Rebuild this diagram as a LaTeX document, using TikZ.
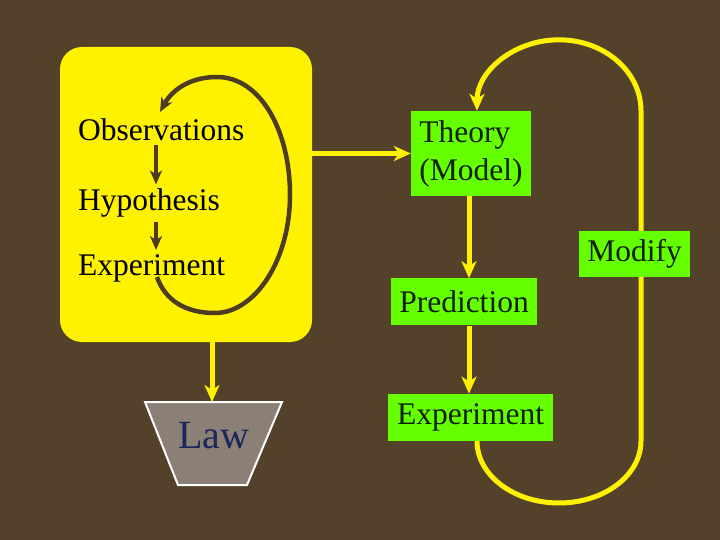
\documentclass[tikz,border=0pt]{standalone}
\usepackage{fontspec}
\setmainfont{Liberation Serif}
\usetikzlibrary{arrows.meta,positioning}
\definecolor{bgbrown}{RGB}{84,65,42}
\definecolor{loopbrown}{RGB}{78,59,36}
\definecolor{lime}{RGB}{102,255,0}
\definecolor{lawgray}{RGB}{140,128,118}
\definecolor{lawblue}{RGB}{26,38,92}
\definecolor{boxtext}{RGB}{8,32,8}

\begin{document}
\begin{tikzpicture}[x=1pt, y=-1pt,
  lab/.style={rectangle, rounded corners=22pt, fill=yellow, minimum width=252pt, minimum height=295pt},
  word/.style={anchor=west, inner sep=4pt, font=\fontsize{31.5}{37}\selectfont},
  gbox/.style={rectangle, fill=lime, text=boxtext, inner sep=5pt, font=\fontsize{31.5}{38}\selectfont},
  barr/.style={-{Stealth[length=14pt, width=12pt, inset=4pt]}, line width=4.5pt, draw=loopbrown},
  yline/.style={line width=5pt, draw=yellow},
  yarr/.style={yline, -{Stealth[length=17pt, width=15pt, inset=5pt]}}
]
\fill[bgbrown] (0,0) rectangle (720,540);
\useasboundingbox (0,0) rectangle (720,540);

% the lab box
\node[lab] (lab) at (186,194.5) {};
\node[word] (obs) at (74,130) {Observations};
\node[word] (hyp) at (74,203) {Hypothesis};
\node[word] (expl) at (74,268) {Experiment};
\coordinate (col) at (156,0);
\draw[barr] (obs.south -| col) -- (hyp.north -| col);
\draw[barr] (hyp.south -| col) -- (expl.north -| col);
\draw[barr] (157,277) .. controls (165,300) and (185,313) .. (215,313)
  .. controls (255,313) and (290,260) .. (290,195)
  .. controls (290,130) and (260,77) .. (217,77)
  .. controls (190,77) and (172,90) .. (160,112);

% law
\draw[draw=white, line width=2pt, fill=lawgray] (145,402) -- (282,402) -- (247,485) -- (178,485) -- cycle;
\node[text=lawblue, font=\fontsize{40}{48}\selectfont] (law) at (214,436) {Law};
\coordinate (lawtop) at (212,402);
\draw[yarr] (lab.south -| lawtop) -- (lawtop);

% theory cycle
\node[gbox, align=left, minimum width=120pt, minimum height=85pt] (theory) at (471,153.5) {Theory\\(Model)};
\node[gbox, minimum width=146pt, minimum height=47pt, below=82pt of theory, xshift=-7pt] (pred) {Prediction};
\node[gbox, minimum width=165pt, minimum height=47pt, below=68pt of pred, xshift=6.5pt] (expt) {Experiment};
\node[gbox, minimum width=111pt, minimum height=46pt] (modify) at (634.5,254) {Modify};

\draw[yarr] (lab.east |- theory.west) -- (theory.west);
\draw[yarr] ([xshift=-2pt]theory.south) -- ([xshift=5pt]pred.north);
\draw[yarr] ([xshift=5pt]pred.south) -- ([xshift=-1.5pt]expt.north);
\draw[yline] ([xshift=6.5pt]expt.south) arc[start angle=180, end angle=0, x radius=82, y radius=62] -- ([xshift=6.5pt]modify.south);
\draw[yarr] ([xshift=6.5pt]modify.north) -- ++(0,-120) arc[start angle=0, end angle=-180, x radius=82, y radius=71];
\end{tikzpicture}
\end{document}
